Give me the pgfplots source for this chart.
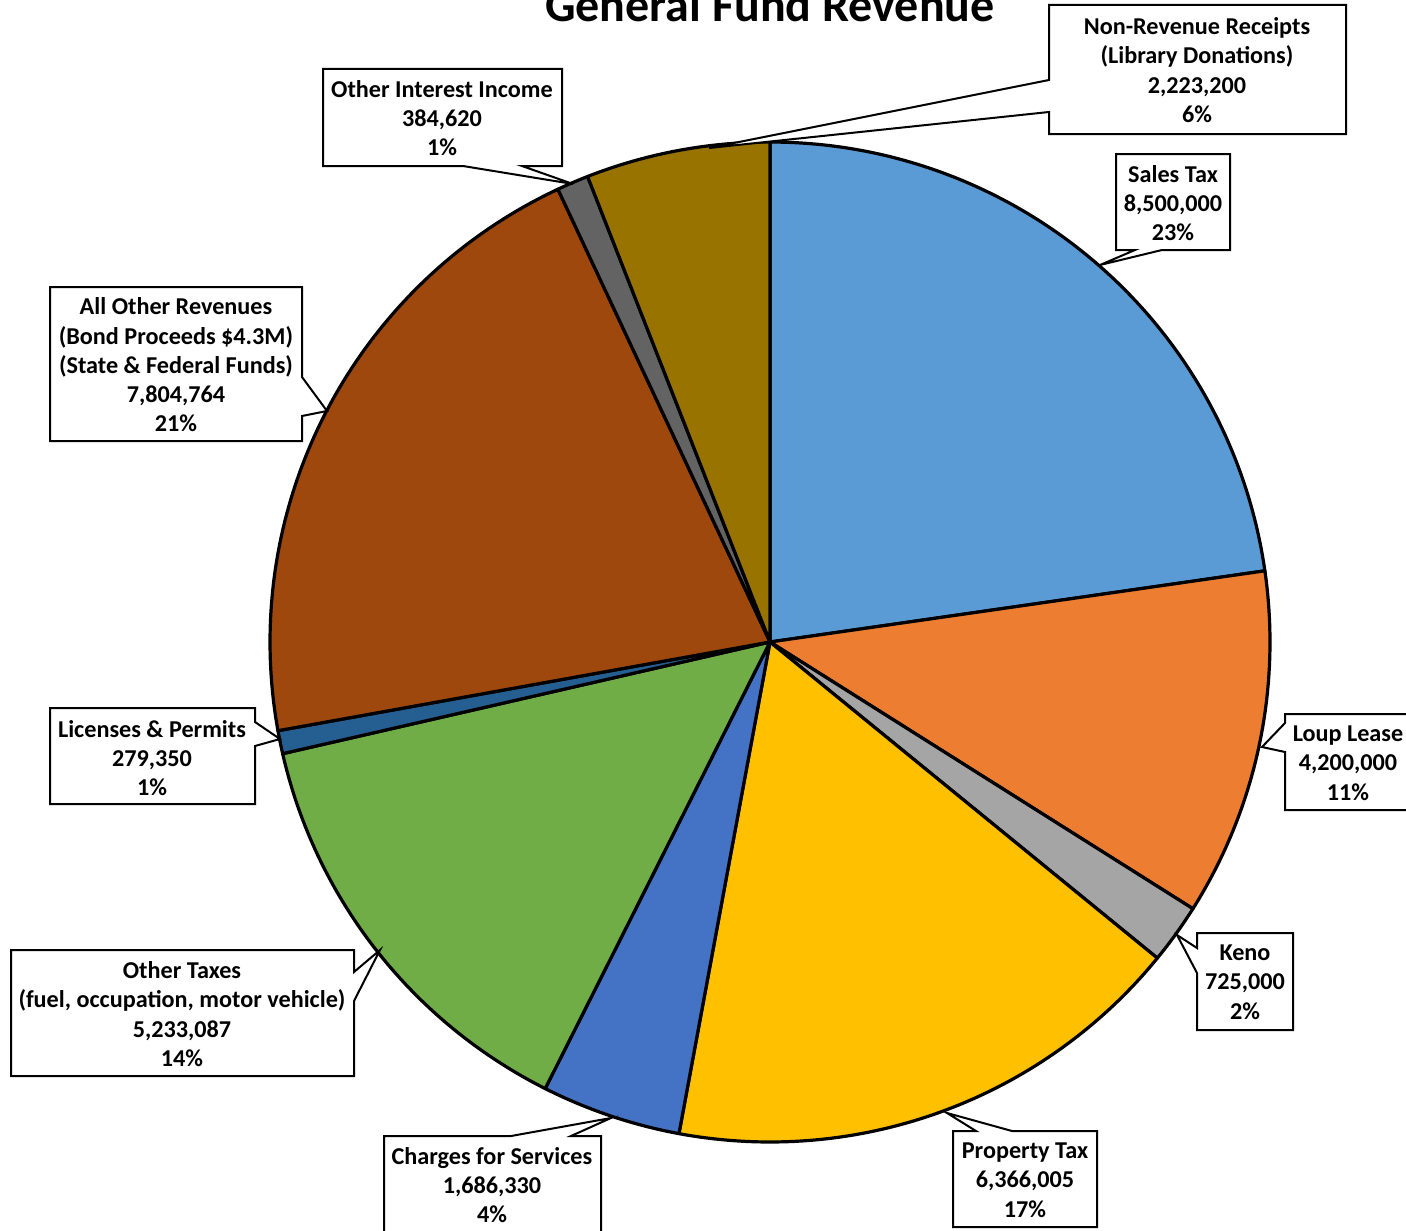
\documentclass[border=0pt]{standalone}
\usepackage{pgfplots}
\pgfplotsset{compat=1.18}
\usepackage{fontspec}
\setmainfont{Carlito}

\definecolor{cSales}{HTML}{5B9BD5}
\definecolor{cLoup}{HTML}{ED7D31}
\definecolor{cKeno}{HTML}{A5A5A5}
\definecolor{cProp}{HTML}{FFC000}
\definecolor{cChg}{HTML}{4472C4}
\definecolor{cOTax}{HTML}{70AD47}
\definecolor{cLic}{HTML}{255E91}
\definecolor{cAll}{HTML}{9E480E}
\definecolor{cInt}{HTML}{636363}
\definecolor{cNon}{HTML}{997300}

% values in millions
\def\vA{8.5}      % Sales Tax
\def\vB{4.2}      % Loup Lease
\def\vC{0.725}    % Keno
\def\vD{6.366005} % Property Tax
\def\vE{1.68633}  % Charges for Services
\def\vF{5.233087} % Other Taxes
\def\vG{0.27935}  % Licenses & Permits
\def\vH{7.804764} % All Other Revenues
\def\vI{0.38462}  % Other Interest Income
\def\vJ{2.2232}   % Non-Revenue Receipts

\pgfmathsetmacro{\tot}{\vA+\vB+\vC+\vD+\vE+\vF+\vG+\vH+\vI+\vJ}
\pgfmathsetmacro{\tA}{90}
\pgfmathsetmacro{\tB}{\tA-360*\vA/\tot}
\pgfmathsetmacro{\tC}{\tB-360*\vB/\tot}
\pgfmathsetmacro{\tD}{\tC-360*\vC/\tot}
\pgfmathsetmacro{\tE}{\tD-360*\vD/\tot}
\pgfmathsetmacro{\tF}{\tE-360*\vE/\tot}
\pgfmathsetmacro{\tG}{\tF-360*\vF/\tot}
\pgfmathsetmacro{\tH}{\tG-360*\vG/\tot}
\pgfmathsetmacro{\tI}{\tH-360*\vH/\tot}
\pgfmathsetmacro{\tJ}{\tI-360*\vI/\tot}
\pgfmathsetmacro{\tK}{-270}

\newcommand{\pieslice}[3]{%
  \addplot[fill=#1, draw=black, line width=3.2pt, line join=round, domain=#2:#3, samples=120]
    ({770+500*cos(x)},{642-500*sin(x)}) -- (axis cs:770,642) -- cycle;}

\tikzset{callout/.style={draw=black, fill=white, line width=2pt, line join=miter},
  lbl/.style={align=center, font=\bfseries\fontsize{24.2}{29.3}\selectfont, inner sep=0pt}}

\begin{document}
\begin{tikzpicture}
\begin{axis}[
  at={(0,0)}, anchor=south west,
  scale only axis, width=1406pt, height=1231pt,
  xmin=0, xmax=1406, ymin=0, ymax=1231, y dir=reverse,
  hide axis, clip=false]

\pieslice{cSales}{\tB}{\tA}
\pieslice{cLoup}{\tC}{\tB}
\pieslice{cKeno}{\tD}{\tC}
\pieslice{cProp}{\tE}{\tD}
\pieslice{cChg}{\tF}{\tE}
\pieslice{cOTax}{\tG}{\tF}
\pieslice{cLic}{\tH}{\tG}
\pieslice{cAll}{\tI}{\tH}
\pieslice{cInt}{\tJ}{\tI}
\pieslice{cNon}{\tK}{\tJ}

% title
\node[anchor=base, font=\bfseries\fontsize{48}{56}\selectfont, inner sep=0pt] at (axis cs:770,22) {General Fund Revenue};

% callouts
\draw[callout] (axis cs:1049,5) -- (axis cs:1346,5) -- (axis cs:1346,134) -- (axis cs:1049,134) -- (axis cs:1049,112) -- (axis cs:709,148) -- (axis cs:1049,80) -- cycle;
\node[lbl] at (axis cs:1197,70) {Non-Revenue Receipts\\(Library Donations)\\2,223,200\\6\%};

\draw[callout] (axis cs:1116,154) -- (axis cs:1230,154) -- (axis cs:1230,250) -- (axis cs:1162,250) -- (axis cs:1100,265) -- (axis cs:1135,250) -- (axis cs:1116,250) -- cycle;
\node[lbl] at (axis cs:1173,203) {Sales Tax\\8,500,000\\23\%};

\draw[callout] (axis cs:1285,714) -- (axis cs:1420,714) -- (axis cs:1420,810) -- (axis cs:1285,810) -- (axis cs:1285,752) -- (axis cs:1262,747) -- (axis cs:1285,723) -- cycle;
\node[lbl] at (axis cs:1348,763) {Loup Lease\\4,200,000\\11\%};

\draw[callout] (axis cs:1197,933) -- (axis cs:1293,933) -- (axis cs:1293,1030) -- (axis cs:1197,1030) -- (axis cs:1197,973) -- (axis cs:1177,935) -- (axis cs:1197,948) -- cycle;
\node[lbl] at (axis cs:1245,982) {Keno\\725,000\\2\%};

\draw[callout] (axis cs:953,1131) -- (axis cs:976,1131) -- (axis cs:947,1113) -- (axis cs:1012,1131) -- (axis cs:1097,1131) -- (axis cs:1097,1227) -- (axis cs:953,1227) -- cycle;
\node[lbl] at (axis cs:1025,1180) {Property Tax\\6,366,005\\17\%};

\draw[callout] (axis cs:384,1136) -- (axis cs:511,1136) -- (axis cs:611,1118) -- (axis cs:571,1136) -- (axis cs:601,1136) -- (axis cs:601,1245) -- (axis cs:384,1245) -- cycle;
\node[lbl] at (axis cs:492,1185) {Charges for Services\\1,686,330\\4\%};

\draw[callout] (axis cs:11,950) -- (axis cs:354,950) -- (axis cs:354,972) -- (axis cs:380,950) -- (axis cs:354,1001) -- (axis cs:354,1076) -- (axis cs:11,1076) -- cycle;
\node[lbl] at (axis cs:182,1014) {Other Taxes\\(fuel, occupation, motor vehicle)\\5,233,087\\14\%};

\draw[callout] (axis cs:50,708) -- (axis cs:255,708) -- (axis cs:255,722) -- (axis cs:280,739) -- (axis cs:255,746) -- (axis cs:255,804) -- (axis cs:50,804) -- cycle;
\node[lbl] at (axis cs:152,758) {Licenses \& Permits\\279,350\\1\%};

\draw[callout] (axis cs:50,287) -- (axis cs:302,287) -- (axis cs:302,377) -- (axis cs:327,411) -- (axis cs:302,416) -- (axis cs:302,441) -- (axis cs:50,441) -- cycle;
\node[lbl] at (axis cs:176,365) {All Other Revenues\\(Bond Proceeds \$4.3M)\\(State \& Federal Funds)\\7,804,764\\21\%};

\draw[callout] (axis cs:323,69) -- (axis cs:562,69) -- (axis cs:562,166) -- (axis cs:522,166) -- (axis cs:573,184) -- (axis cs:463,166) -- (axis cs:323,166) -- cycle;
\node[lbl] at (axis cs:442,118) {Other Interest Income\\384,620\\1\%};

\end{axis}
\pgfresetboundingbox
\path[use as bounding box] (0,0) rectangle (1406pt,1231pt);
\end{tikzpicture}
\end{document}
